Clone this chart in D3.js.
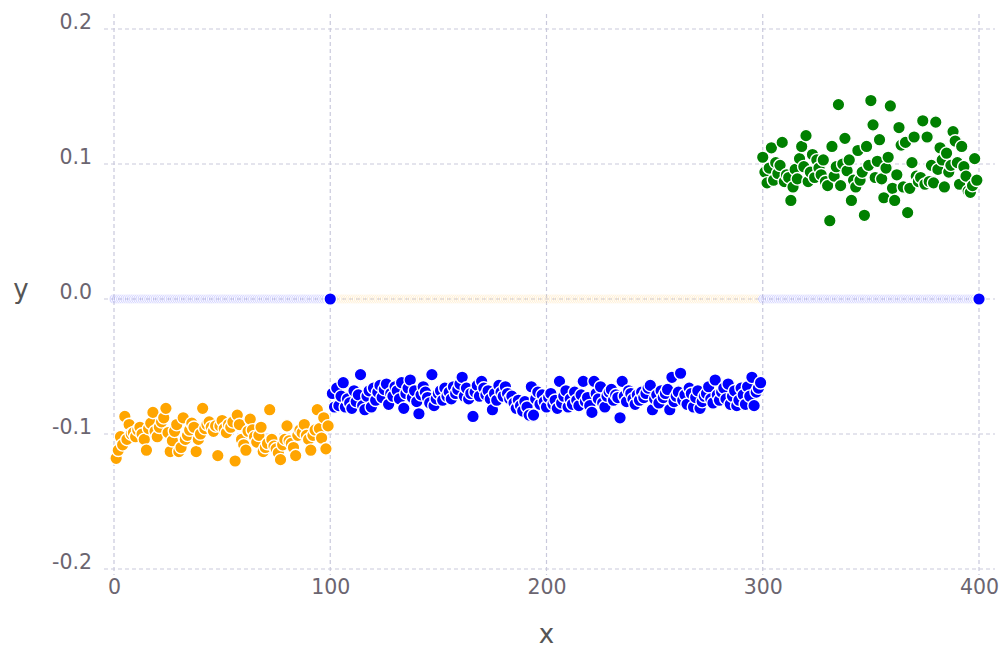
<!DOCTYPE html>
<html>
<head>
<meta charset="utf-8">
<script src="https://cdn.jsdelivr.net/npm/d3@7"></script>
<style>
  html, body { margin: 0; padding: 0; background: #fff; }
  svg { display: block; font-family: "DejaVu Sans", sans-serif; }
</style>
</head>
<body>
<svg id="chart" width="1005" height="648"></svg>
<script>
// Tick values
const xTicks = [0, 100, 200, 300, 400];
const yTicks = [-0.2, -0.1, 0.0, 0.1, 0.2];

// Orange series, x = 1..99
const orangeY = [
  -0.118, -0.112, -0.102, -0.108, -0.087, -0.104, -0.093, -0.100, -0.099, -0.102,
  -0.097, -0.095, -0.100, -0.104, -0.112, -0.096, -0.092, -0.084, -0.098, -0.102,
  -0.095, -0.091, -0.088, -0.081, -0.099, -0.113, -0.105, -0.098, -0.093, -0.113,
  -0.110, -0.088, -0.104, -0.101, -0.097, -0.092, -0.095, -0.113, -0.104, -0.100,
  -0.081, -0.096, -0.093, -0.091, -0.095, -0.098, -0.094, -0.116, -0.094, -0.090,
  -0.096, -0.099, -0.093, -0.095, -0.091, -0.120, -0.086, -0.093, -0.104, -0.108,
  -0.112, -0.098, -0.089, -0.097, -0.102, -0.106, -0.101, -0.095, -0.113, -0.110,
  -0.107, -0.082, -0.104, -0.109, -0.111, -0.114, -0.119, -0.108, -0.104, -0.094,
  -0.105, -0.107, -0.110, -0.116, -0.101, -0.097, -0.099, -0.093, -0.101, -0.104,
  -0.112, -0.101, -0.097, -0.082, -0.096, -0.103, -0.088, -0.111, -0.094
];

// Blue series, x = 101..299
const blueY = [
  -0.070, -0.080, -0.066, -0.079, -0.072, -0.062, -0.080, -0.074, -0.077, -0.081,
  -0.068, -0.076, -0.071, -0.056, -0.079, -0.082, -0.072, -0.068, -0.080, -0.066,
  -0.075, -0.069, -0.064, -0.073, -0.067, -0.063, -0.078, -0.070, -0.072, -0.065,
  -0.068, -0.074, -0.062, -0.081, -0.070, -0.066, -0.060, -0.073, -0.068, -0.076,
  -0.085, -0.071, -0.065, -0.069, -0.073, -0.077, -0.056, -0.079, -0.074, -0.070,
  -0.068, -0.075, -0.066, -0.072, -0.069, -0.074, -0.065, -0.070, -0.067, -0.063,
  -0.058, -0.072, -0.066, -0.074, -0.070, -0.087, -0.069, -0.064, -0.072, -0.061,
  -0.066, -0.071, -0.068, -0.074, -0.082, -0.070, -0.075, -0.064, -0.069, -0.072,
  -0.065, -0.070, -0.074, -0.072, -0.077, -0.081, -0.075, -0.079, -0.083, -0.076,
  -0.080, -0.086, -0.065, -0.086, -0.074, -0.069, -0.078, -0.071, -0.076, -0.080,
  -0.073, -0.070, -0.078, -0.075, -0.081, -0.061, -0.077, -0.072, -0.068, -0.080,
  -0.074, -0.078, -0.069, -0.075, -0.079, -0.071, -0.061, -0.076, -0.073, -0.079,
  -0.084, -0.061, -0.070, -0.074, -0.065, -0.077, -0.080, -0.072, -0.069, -0.067,
  -0.075, -0.071, -0.073, -0.088, -0.061, -0.072, -0.076, -0.068, -0.070, -0.074,
  -0.078, -0.071, -0.075, -0.069, -0.073, -0.070, -0.066, -0.064, -0.082, -0.074,
  -0.071, -0.077, -0.068, -0.073, -0.070, -0.067, -0.082, -0.058, -0.076, -0.072,
  -0.069, -0.055, -0.075, -0.071, -0.078, -0.066, -0.070, -0.080, -0.073, -0.068,
  -0.081, -0.076, -0.072, -0.070, -0.065, -0.074, -0.077, -0.060, -0.071, -0.075,
  -0.069, -0.066, -0.074, -0.063, -0.078, -0.072, -0.068, -0.079, -0.075, -0.066,
  -0.071, -0.078, -0.065, -0.072, -0.058, -0.079, -0.069, -0.066, -0.062
];

// Green series, x = 300..399
const greenY = [
  0.105, 0.094, 0.086, 0.097, 0.112, 0.088, 0.101, 0.093, 0.099, 0.116,
  0.087, 0.092, 0.090, 0.073, 0.083, 0.096, 0.089, 0.104, 0.113, 0.098,
  0.121, 0.087, 0.094, 0.107, 0.090, 0.103, 0.097, 0.092, 0.103, 0.087,
  0.084, 0.058, 0.113, 0.091, 0.098, 0.144, 0.084, 0.100, 0.119, 0.095,
  0.103, 0.073, 0.088, 0.083, 0.110, 0.088, 0.094, 0.062, 0.113, 0.099,
  0.147, 0.129, 0.090, 0.102, 0.118, 0.089, 0.075, 0.097, 0.105, 0.143,
  0.082, 0.073, 0.092, 0.127, 0.114, 0.083, 0.116, 0.064, 0.082, 0.101,
  0.120, 0.091, 0.087, 0.090, 0.132, 0.085, 0.120, 0.087, 0.099, 0.086,
  0.131, 0.096, 0.112, 0.103, 0.083, 0.108, 0.094, 0.099, 0.124, 0.117,
  0.101, 0.085, 0.113, 0.098, 0.091, 0.080, 0.079, 0.084, 0.104, 0.088
];

// Two blue points sitting on the zero line
const zeroPointsX = [100, 400];
const zeroPointsY = [0, 0];

// Faint markers along y = 0 (start, end, colour)
const ghostSegments = [
  [0, 99, "#0000ff"],
  [100, 299, "#ffa500"],
  [300, 399, "#0000ff"]
];

const svg = d3.select("#chart");
const x = d3.scaleLinear().domain([0, 400]).range([114, 979]);
const y = d3.scaleLinear().domain([-0.2, 0.2]).range([569, 29]);

const gridColor = "#c9c9dc";
const textColor = "#6b6570";

// Grid lines
const grid = svg.append("g");
grid.selectAll("line.v").data(xTicks).join("line")
  .attr("x1", d => x(d)).attr("x2", d => x(d))
  .attr("y1", 14).attr("y2", 575)
  .attr("stroke", gridColor).attr("stroke-width", 1.2)
  .attr("stroke-dasharray", "4,3");
grid.selectAll("line.h").data(yTicks).join("line")
  .attr("x1", 104).attr("x2", 995)
  .attr("y1", d => y(d)).attr("y2", d => y(d))
  .attr("stroke", gridColor).attr("stroke-width", 1.2)
  .attr("stroke-dasharray", "4,3");

// Axes (labels only)
const xAxis = d3.axisBottom(x).tickValues(xTicks).tickSize(0).tickPadding(6)
  .tickFormat(d3.format("d"));
svg.append("g").attr("transform", "translate(0,573)").call(xAxis)
  .call(g => g.select(".domain").remove())
  .call(g => g.selectAll("text").attr("fill", textColor)
    .style("font-size", "20.5px").style("font-family", "DejaVu Sans"));

const fmtY = d3.format(".1f");
const yAxis = d3.axisLeft(y).tickValues(yTicks).tickSize(0).tickPadding(0)
  .tickFormat(d => fmtY(d).replace("\u2212", "-"));
svg.append("g").attr("transform", "translate(92,-7)").call(yAxis)
  .call(g => g.select(".domain").remove())
  .call(g => g.selectAll("text").attr("fill", textColor)
    .style("font-size", "20.5px").style("font-family", "DejaVu Sans"));

// Axis titles
svg.append("text").attr("x", x(200)).attr("y", 643)
  .attr("text-anchor", "middle").attr("fill", "#555")
  .style("font-size", "26px").text("x");
svg.append("text").attr("x", 21).attr("y", 298)
  .attr("text-anchor", "middle").attr("fill", "#555")
  .style("font-size", "26px").text("y");

// Faint markers along zero
const ghost = [];
ghostSegments.forEach(([a, b, c]) => {
  for (let i = a; i <= b; i++) ghost.push({x: i, c});
});
svg.append("g").attr("opacity", 0.16)
  .selectAll("circle").data(ghost).join("circle")
  .attr("cx", d => x(d.x)).attr("cy", y(0)).attr("r", 5)
  .attr("fill", d => d.c).attr("stroke", "#fff").attr("stroke-width", 1);

function drawSeries(values, x0, color) {
  svg.append("g").selectAll("circle").data(values).join("circle")
    .attr("cx", (d, i) => x(x0 + i))
    .attr("cy", d => y(d))
    .attr("r", 6.3)
    .attr("fill", color)
    .attr("stroke", "#fff")
    .attr("stroke-width", 1.4);
}

drawSeries(orangeY, 1, "#ffa500");
drawSeries(blueY, 101, "#0000ff");
drawSeries(greenY, 300, "#008000");

svg.append("g").selectAll("circle").data(zeroPointsX).join("circle")
  .attr("cx", d => x(d))
  .attr("cy", (d, i) => y(zeroPointsY[i]))
  .attr("r", 6.3)
  .attr("fill", "#0000ff")
  .attr("stroke", "#fff")
  .attr("stroke-width", 1.4);
</script>
</body>
</html>
